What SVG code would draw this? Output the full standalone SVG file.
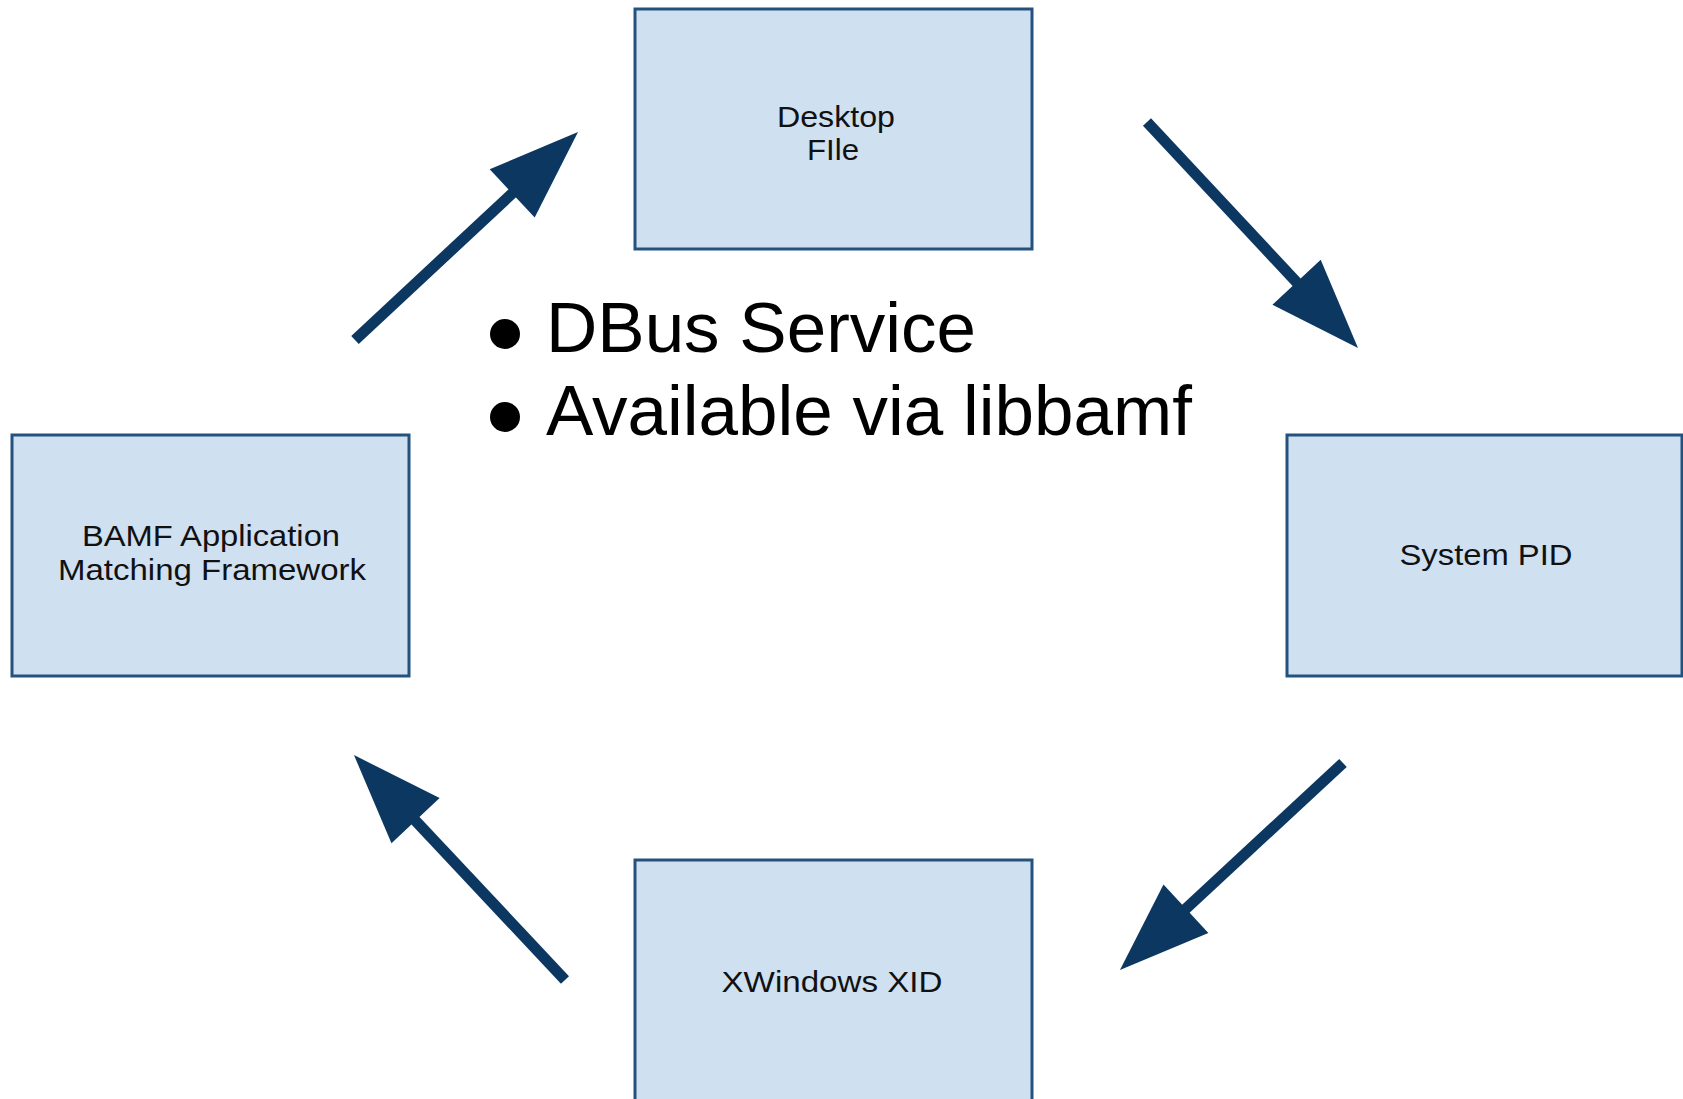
<svg xmlns="http://www.w3.org/2000/svg" width="1683" height="1099" viewBox="0 0 1683 1099">
  <style>
    .box { fill: #cfe0f1; stroke: #24527e; stroke-width: 3; }
    .lbl { font-family: "Liberation Sans", Arial, sans-serif; font-size: 30px; fill: #111; text-anchor: middle; }
    .conn { stroke: #0b3761; stroke-width: 11; fill: none; marker-end: url(#head); }
    .bul { font-family: "Liberation Sans", Arial, sans-serif; font-size: 71px; fill: #000; }
  </style>
  <defs>
    <marker id="head" markerUnits="userSpaceOnUse" markerWidth="90" markerHeight="66" viewBox="0 0 90 66" refX="10" refY="33" orient="auto" overflow="visible">
      <path d="M0,0 L90,33 L0,66 Z" fill="#0b3761"/>
    </marker>
  </defs>
  <rect width="1683" height="1099" fill="#ffffff"/>

  <g id="node-desktop-file">
    <rect class="box" x="635" y="9" width="397" height="240"/>
    <text class="lbl" x="836" y="127" textLength="118" lengthAdjust="spacingAndGlyphs">Desktop</text>
    <text class="lbl" x="833" y="160" textLength="52" lengthAdjust="spacingAndGlyphs">FIle</text>
  </g>
  <g id="node-system-pid">
    <rect class="box" x="1287" y="435" width="395" height="241"/>
    <text class="lbl" x="1486" y="565" textLength="173" lengthAdjust="spacingAndGlyphs">System PID</text>
  </g>
  <g id="node-xwindows-xid">
    <rect class="box" x="635" y="860" width="397" height="245"/>
    <text class="lbl" x="832" y="992" textLength="221" lengthAdjust="spacingAndGlyphs">XWindows XID</text>
  </g>
  <g id="node-bamf">
    <rect class="box" x="12" y="435" width="397" height="241"/>
    <text class="lbl" x="211" y="546" textLength="258" lengthAdjust="spacingAndGlyphs">BAMF Application</text>
    <text class="lbl" x="212" y="580" textLength="308" lengthAdjust="spacingAndGlyphs">Matching Framework</text>
  </g>

  <g id="connectors">
    <line class="conn" x1="355" y1="340" x2="519.5" y2="186.6"/>
    <line class="conn" x1="1147" y1="122" x2="1303.4" y2="289.5"/>
    <line class="conn" x1="1343" y1="763" x2="1178.6" y2="915.5"/>
    <line class="conn" x1="565" y1="980" x2="408.7" y2="813.4"/>
  </g>

  <g id="notes">
    <circle cx="505" cy="334" r="15" fill="#000"/>
    <text class="bul" x="546" y="352">DBus Service</text>
    <circle cx="505" cy="417" r="15" fill="#000"/>
    <text class="bul" x="546" y="435">Available via libbamf</text>
  </g>
</svg>
